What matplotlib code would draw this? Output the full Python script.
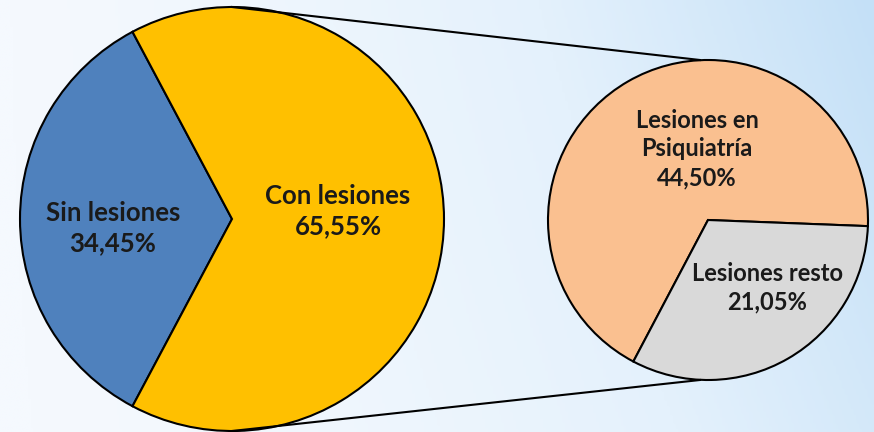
import matplotlib.pyplot as plt
import numpy as np
from matplotlib.colors import LinearSegmentedColormap

# main pie
main_labels = ['Sin lesiones', 'Con lesiones']
main_values = [34.45, 65.55]
main_colors = ['#4F81BD', '#FFC000']

# breakdown of "Con lesiones"
sub_labels = ['Lesiones en\nPsiquiatría', 'Lesiones resto']
sub_values = [44.50, 21.05]
sub_colors = ['#FAC090', '#D9D9D9']


def pct(v):
    return f'{v:.2f}%'.replace('.', ',')


W, H = 874, 432
fig = plt.figure(figsize=(W / 100, H / 100), dpi=100)
ax = fig.add_axes([0, 0, 1, 1])
ax.set_axis_off()

# soft blue background, whitish on the left
xx = np.linspace(0, 1, 300)
yy = np.linspace(0, 1, 150)
X, Y = np.meshgrid(xx, yy)
grad = 0.75 * X ** 1.6 + 0.25 * (1 - Y) * X
bg_cmap = LinearSegmentedColormap.from_list('bg', ['#F5F9FE', '#E4F1FC', '#C4E0F7'])
ax.imshow(grad, cmap=bg_cmap, extent=[0, W, 0, H], origin='upper',
          aspect='auto', zorder=0, vmin=0, vmax=1)

edge = dict(edgecolor='black', linewidth=1.5)

big_c, big_r = (232, 213), 212
small_c, small_r = (708, 212), 160

ax.pie(main_values, colors=main_colors, startangle=180 - main_values[0] / 100 * 180,
       center=big_c, radius=big_r, wedgeprops=edge, frame=True)

ax.pie(sub_values, colors=sub_colors, startangle=-2.2,
       center=small_c, radius=small_r, wedgeprops=edge, frame=True)

# connector lines between the two pies
ax.plot([big_c[0], small_c[0] - 8], [big_c[1] + big_r, small_c[1] + small_r],
        color='black', lw=1.5, zorder=1)
ax.plot([big_c[0], small_c[0] - 8], [big_c[1] - big_r, small_c[1] - small_r],
        color='black', lw=1.5, zorder=1)

txt = dict(ha='center', va='center', fontweight='bold',
           family='Lato', color='#1a1a1a', zorder=5)
ax.text(113, 432 - 228, f'{main_labels[0]}\n{pct(main_values[0])}',
        fontsize=18.5, linespacing=1.3, **txt)
ax.text(338, 432 - 211, f'{main_labels[1]}\n{pct(main_values[1])}',
        fontsize=18.5, linespacing=1.3, **txt)
ax.text(697, 432 - 149, f'{sub_labels[0]}\n{pct(sub_values[0])}',
        fontsize=17, linespacing=1.3, **txt)
ax.text(767, 432 - 288, f'{sub_labels[1]}\n{pct(sub_values[1])}',
        fontsize=17, linespacing=1.3, **txt)

ax.set_xlim(0, W)
ax.set_ylim(0, H)
ax.set_aspect('equal')
ax.set_axis_off()

fig.savefig('out.png', dpi=100)
